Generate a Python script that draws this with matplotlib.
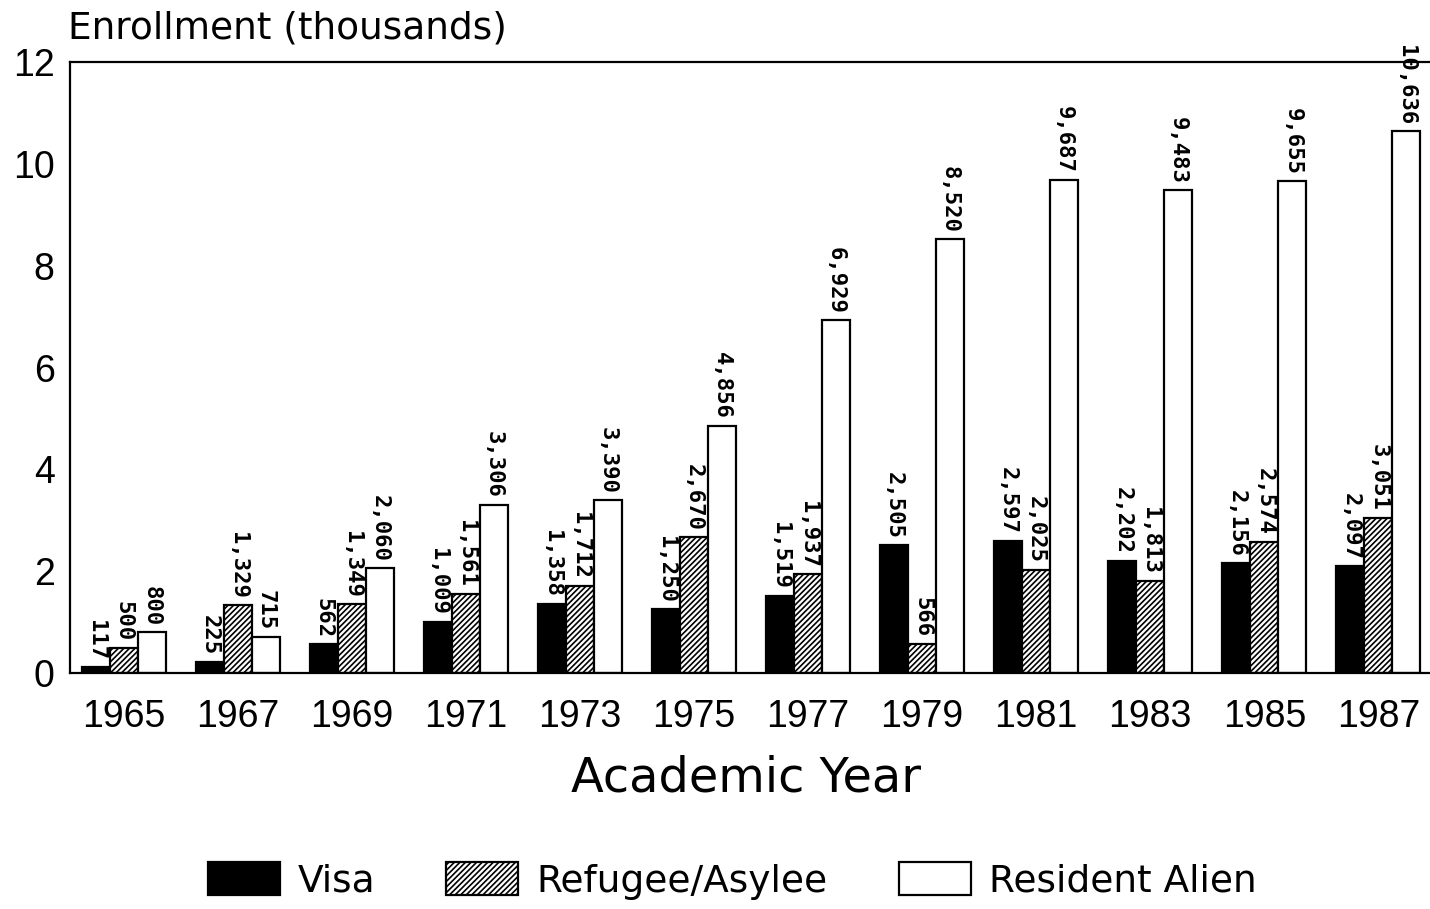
import matplotlib
matplotlib.use("Agg")
import matplotlib.pyplot as plt
import numpy as np

plt.rcParams['font.family'] = ['Liberation Sans', 'DejaVu Sans']
plt.rcParams['hatch.linewidth'] = 1.2

# Data (enrollment counts)
years = ['1965', '1967', '1969', '1971', '1973', '1975',
         '1977', '1979', '1981', '1983', '1985', '1987']
visa = [117, 225, 562, 1009, 1358, 1250, 1519, 2505, 2597, 2202, 2156, 2097]
refugee = [500, 1329, 1349, 1561, 1712, 2670, 1937, 566, 2025, 1813, 2574, 3051]
resident = [800, 715, 2060, 3306, 3390, 4856, 6929, 8520, 9687, 9483, 9655, 10636]

fig = plt.figure(figsize=(14.3, 9.09), dpi=100)
ax = fig.add_axes([70 / 1430, (909 - 673) / 909, 1362 / 1430, 611 / 909])

x = np.arange(len(years))
w = 0.245

series = [
    (visa, -w, dict(color='black', edgecolor='black'), 'Visa'),
    (refugee, 0, dict(color='white', edgecolor='black', hatch='//////'), 'Refugee/Asylee'),
    (resident, w, dict(color='white', edgecolor='black'), 'Resident Alien'),
]

for vals, off, style, name in series:
    v = np.array(vals) / 1000.0
    ax.bar(x + off, v, w, linewidth=1.6, label=name, **style)
    for xi, vi, raw in zip(x + off, v, vals):
        ax.text(xi, vi + 0.13, f"{raw:,}", rotation=270, ha='center', va='bottom',
                fontsize=16, fontweight='bold', family='DejaVu Sans Mono')

ax.set_xlim(-0.47, 11.47)
ax.set_ylim(0, 12)
ax.set_yticks([0, 2, 4, 6, 8, 10, 12])
ax.set_xticks(x)
ax.set_xticklabels(years)
ax.tick_params(axis='both', length=0, labelsize=27)
ax.tick_params(axis='x', pad=19)
ax.tick_params(axis='y', pad=11)
for s in ax.spines.values():
    s.set_linewidth(1.6)

fig.text(68 / 1430, 1 - 28 / 909, "Enrollment (thousands)", fontsize=27,
         family='DejaVu Sans', ha='left', va='center')
fig.text(746 / 1430, 1 - 778 / 909, "Academic Year", fontsize=34.5,
         family='DejaVu Sans', ha='center', va='center')

fig.legend(loc='center', bbox_to_anchor=(732 / 1430, 1 - 881 / 909), ncol=3,
           frameon=False, prop={'family': 'DejaVu Sans', 'size': 27},
           handlelength=1.92, handleheight=0.96,
           columnspacing=1.9, handletextpad=0.48)

fig.savefig("out.png", dpi=100)
